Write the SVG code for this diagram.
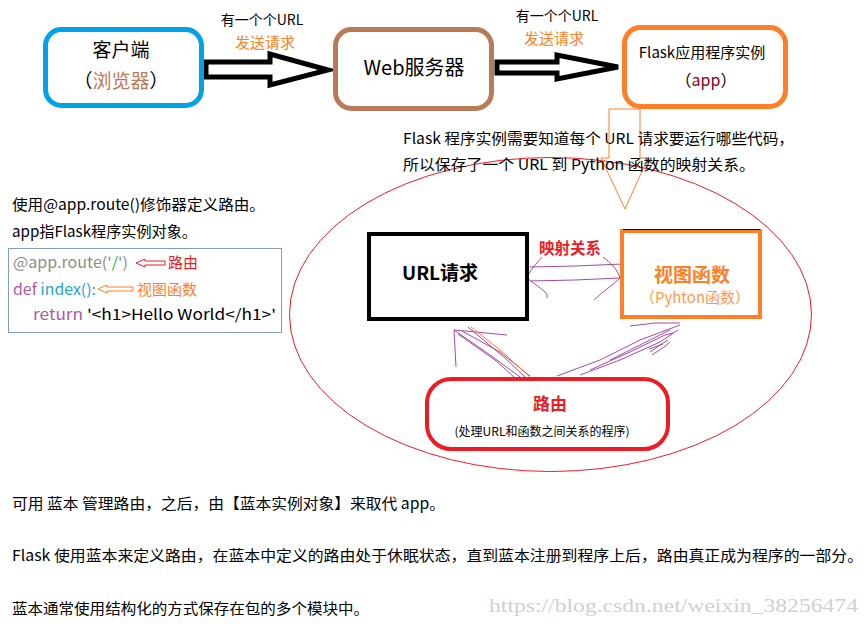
<svg xmlns="http://www.w3.org/2000/svg" width="868" height="626" viewBox="0 0 868 626">
<style>
text{font-family:"Noto Sans CJK SC","Microsoft YaHei",sans-serif;}
text.wm{font-family:"Liberation Serif","DejaVu Serif",serif;}
.box{fill:none;stroke-width:5;}
.blk{fill:#000;}
.org{fill:#FF7F27;}
.red{fill:#ED1C24;}
.pur{fill:none;stroke:#A349A4;stroke-width:1;}
.big{fill:#fff;stroke:#000;stroke-width:5;stroke-linejoin:miter;}
</style>
<rect width="868" height="626" fill="#fff"/>

<!-- ellipse background -->
<ellipse cx="550.5" cy="314.5" rx="261" ry="157" fill="none" stroke="#ED1C24" stroke-width="1"/>

<g id="connectors">
  <polygon class="big" points="206,62 270,62 270,54 328,70 270,85 270,77 206,77"/>
  <text x="262" y="25" font-size="14" text-anchor="middle" class="blk">有一个个URL</text>
  <text x="265" y="48" font-size="15" text-anchor="middle" class="org">发送请求</text>
  <polygon class="big" points="497,62 557,62 557,55 618,67 557,79 557,73 497,73"/>
  <text x="557" y="21" font-size="14" text-anchor="middle" class="blk">有一个个URL</text>
  <text x="554" y="44" font-size="15" text-anchor="middle" class="org">发送请求</text>
  <polygon points="609,109 640,109 640,158 648,158 625,209 601,158 609,158" fill="none" stroke="#FF7F27" stroke-width="1"/>
  <!-- mapping scribbles -->
  <path class="pur" d="M530,267 L575,266 L623,264"/>
  <path class="pur" d="M530,281 L575,280 L620,278"/>
  <path class="pur" d="M542,257 C536,264 530,270 527,278 C534,284 542,288 547,294 L547,298"/>
  <path class="pur" d="M603,257 C610,262 618,270 620,278 C612,286 602,292 594,300"/>
  <!-- route to URL scribbles -->
  <path class="pur" d="M454,330 L456,367"/>
  <path class="pur" d="M454,330 L507,335"/>
  <path class="pur" d="M454,330 L490,355 L520,377"/>
  <path class="pur" d="M458,334 L495,360 L514,377"/>
  <path class="pur" d="M462,331 L500,352 L530,376"/>
  <path class="pur" d="M468,327 L505,358 L525,377"/>
  <path fill="none" stroke="#FF7F27" stroke-width="1" d="M471,327 L500,350 L530,377"/>
  <!-- route to view scribbles -->
  <path class="pur" d="M557,376 L600,360 L640,340 L680,325"/>
  <path class="pur" d="M580,375 L620,360 L660,342 L678,330"/>
  <path class="pur" d="M590,370 L630,352 L665,335 L673,333"/>
  <path class="pur" d="M610,360 L640,345 L670,330"/>
  <path class="pur" d="M630,326 L655,323 L680,323"/>
  <path class="pur" d="M650,352 L660,345 L668,340 M652,355 L664,347 L670,342 M649,349 L663,344"/>
</g>

<g id="client">
  <rect class="box" x="45.5" y="29.5" width="156" height="76" rx="16" stroke="#00A2E8"/>
  <text x="121" y="57" font-size="19" text-anchor="middle" class="blk">客户端</text>
  <text x="121" y="88" font-size="19" text-anchor="middle"><tspan class="blk">（</tspan><tspan fill="#B97A57">浏览器</tspan><tspan class="blk">）</tspan></text>
</g>

<g id="webserver">
  <rect class="box" x="335.5" y="29.5" width="156" height="79" rx="16" stroke="#B97A57"/>
  <text x="414" y="75" font-size="20" text-anchor="middle" class="blk">Web服务器</text>
</g>

<g id="flask">
  <rect class="box" x="624.5" y="27.5" width="161" height="79" rx="16" stroke="#FF7F27"/>
  <text x="702" y="58" font-size="15" text-anchor="middle" class="blk">Flask应用程序实例</text>
  <text x="706" y="86" font-size="16" text-anchor="middle"><tspan class="blk">（</tspan><tspan fill="#880015">app</tspan><tspan class="blk">）</tspan></text>
</g>

<g id="flask-note">
  <text x="403" y="144" font-size="15" class="blk" textLength="391" lengthAdjust="spacingAndGlyphs">Flask 程序实例需要知道每个 URL 请求要运行哪些代码，</text>
  <text x="403" y="170" font-size="15" class="blk" textLength="352" lengthAdjust="spacingAndGlyphs">所以保存了一个 URL 到 Python 函数的映射关系。</text>
</g>

<g id="code-note">
  <text x="12" y="210" font-size="15" class="blk" textLength="253" lengthAdjust="spacingAndGlyphs">使用@app.route()修饰器定义路由。</text>
  <text x="12" y="237" font-size="15" class="blk" textLength="185" lengthAdjust="spacingAndGlyphs">app指Flask程序实例对象。</text>
  <rect x="8.5" y="248.5" width="273" height="84" fill="none" stroke="#7F9DC8" stroke-width="1"/>
  <text x="13" y="268" font-size="15" fill="#8C8C8C" textLength="115" lengthAdjust="spacingAndGlyphs">@app.route('<tspan fill="#22B14C">/</tspan>')</text>
  <polygon points="136,263 145,259 145,261 165,261 165,265 145,265 145,267" fill="#fff" stroke="#ED1C24" stroke-width="1"/>
  <text x="168" y="268" font-size="15" class="red">路由</text>
  <text x="13" y="295" font-size="15" textLength="83" lengthAdjust="spacingAndGlyphs"><tspan fill="#A95BAA">def</tspan><tspan fill="#2A9FD6"> index():</tspan></text>
  <polygon points="98,289 107,285 107,287 133,287 133,291 107,291 107,293" fill="#fff" stroke="#FF7F27" stroke-width="1"/>
  <text x="137" y="295" font-size="15" class="org">视图函数</text>
  <text x="33" y="320" font-size="15" textLength="243" lengthAdjust="spacingAndGlyphs"><tspan fill="#A95BAA">return</tspan><tspan class="blk"> '&lt;h1&gt;Hello World&lt;/h1&gt;'</tspan></text>
</g>

<g id="url-request">
  <rect x="369" y="234" width="158" height="85" fill="none" stroke="#000" stroke-width="4"/>
  <text x="440" y="280" font-size="19" font-weight="bold" text-anchor="middle" class="blk">URL请求</text>
</g>

<g id="mapping-label">
  <text x="539" y="254" font-size="15.5" font-weight="bold" class="red">映射关系</text>
</g>

<g id="view-function">
  <rect x="622" y="231" width="138" height="86" fill="none" stroke="#FF7F27" stroke-width="4"/>
  <line x1="623" y1="229.5" x2="760" y2="229.5" stroke="#000" stroke-width="1"/>
  <text x="692" y="282" font-size="19" font-weight="bold" text-anchor="middle" class="org">视图函数</text>
  <text x="695" y="303" font-size="15" text-anchor="middle" fill="#FF9A4D">（Pyhton函数）</text>
</g>

<g id="route">
  <rect x="427" y="379" width="241" height="70" rx="24" fill="none" stroke="#ED1C24" stroke-width="4"/>
  <text x="550" y="410" font-size="17" font-weight="bold" text-anchor="middle" class="red">路由</text>
  <text x="542" y="436" font-size="12" text-anchor="middle" class="blk">(处理URL和函数之间关系的程序)</text>
</g>

<g id="footer">
  <text x="12" y="509" font-size="15" class="blk" textLength="433" lengthAdjust="spacingAndGlyphs">可用 蓝本 管理路由，之后，由【蓝本实例对象】来取代 app。</text>
  <text x="12" y="561" font-size="15" class="blk" textLength="851" lengthAdjust="spacingAndGlyphs">Flask 使用蓝本来定义路由，在蓝本中定义的路由处于休眠状态，直到蓝本注册到程序上后，路由真正成为程序的一部分。</text>
  <text x="12" y="614" font-size="15" class="blk" textLength="357" lengthAdjust="spacingAndGlyphs">蓝本通常使用结构化的方式保存在包的多个模块中。</text>
  <text class="wm" x="489" y="612" font-size="18" fill="#D0D0D0" textLength="369" lengthAdjust="spacingAndGlyphs">https://blog.csdn.net/weixin_38256474</text>
</g>
</svg>
